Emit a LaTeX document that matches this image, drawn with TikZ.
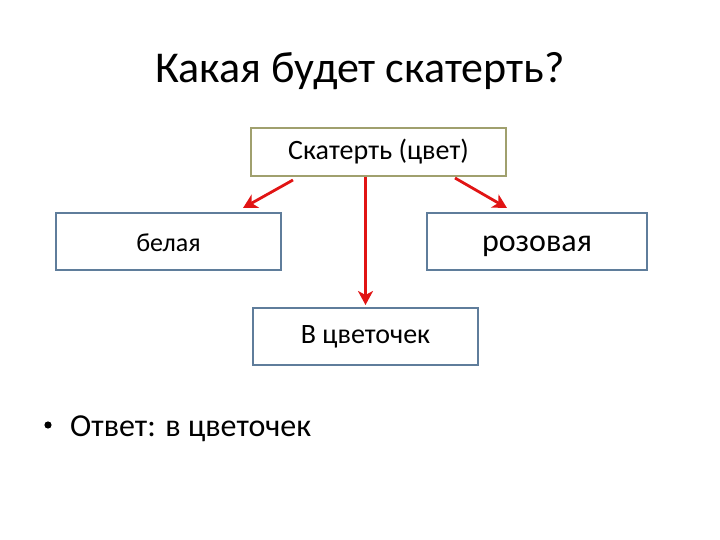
\documentclass[tikz,border=0pt]{standalone}
\usepackage{fontspec}
\setmainfont{Carlito}
\usetikzlibrary{arrows.meta,calc}
\definecolor{olivebox}{RGB}{160,160,110}
\definecolor{bluebox}{RGB}{95,125,155}
\definecolor{arrowred}{RGB}{225,20,20}
\tikzset{
  box/.style={draw=bluebox, line width=2pt, fill=white, inner sep=0pt},
  topbox/.style={draw=olivebox, line width=2pt, fill=white, inner sep=0pt},
  conn/.style={draw=arrowred, line width=2.8pt, -{Stealth[length=14pt,width=15pt,inset=4pt]}},
}
\begin{document}
\begin{tikzpicture}[x=1pt,y=-1pt]
\useasboundingbox (0,0) rectangle (720,540);
\node[anchor=base, font=\fontsize{44}{48}\selectfont] (title) at (360,83) {Какая будет скатерть?};
\node[topbox, minimum width=255pt, minimum height=48pt, font=\fontsize{28}{30}\selectfont] (top) at (378.5,152) {Скатерть (цвет)};
\node[box, minimum width=225pt, minimum height=57pt, text height=20pt, text depth=0pt, font=\fontsize{26}{28}\selectfont] (left) at (168.5,241.5) {белая};
\node[box, minimum width=220pt, minimum height=57pt, text height=20pt, text depth=0pt, font=\fontsize{32}{34}\selectfont] (right) at (537,241.5) {розовая};
\node[box, minimum width=225pt, minimum height=57pt, font=\fontsize{28}{30}\selectfont] (bottom) at (365.5,336.5) {В цветочек};
\fill (48,425) circle (3.6pt);
\node[anchor=base west, inner sep=0pt, font=\fontsize{32}{34}\selectfont] (answer) at (70,436) {Ответ: в цветочек};
\draw[conn] ([xshift=-85.5pt,yshift=-3pt]top.south) -- ([xshift=-39pt,yshift=4pt]left.north east);
\draw[conn] ([xshift=76.5pt,yshift=-1pt]top.south) -- ([xshift=81pt,yshift=4pt]right.north west);
\draw[conn] (bottom.north |- top.south) -- ([yshift=2pt]bottom.north);
\end{tikzpicture}
\end{document}
